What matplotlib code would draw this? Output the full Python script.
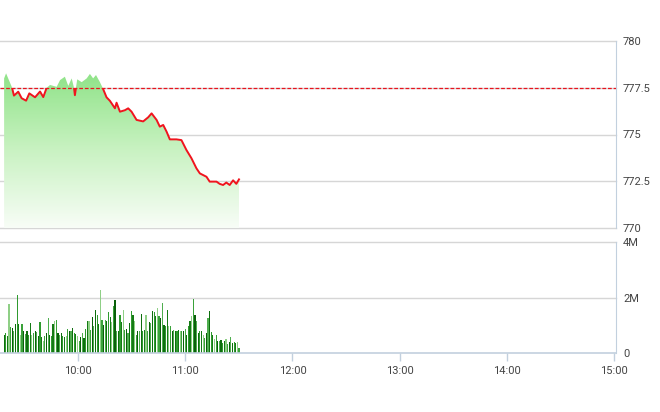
import numpy as np
import matplotlib
matplotlib.use('Agg')
import matplotlib.pyplot as plt
from matplotlib.colors import LinearSegmentedColormap
from matplotlib.patches import Rectangle

plt.rcParams['font.family'] = ['Roboto', 'DejaVu Sans']

# price line, time in minutes since midnight
price_t = [558.7, 559.8, 563.1, 564.2, 566.6, 568.5, 571.0, 572.8, 576.0, 578.8,
           580.6, 582.5, 584.4, 588.1, 590.0, 592.7, 594.6, 596.5, 597.8, 598.3,
           598.9, 599.6, 602.1, 604.9, 606.7, 608.5, 610.1, 612.3, 613.8, 616.0,
           617.9, 620.7, 621.6, 623.5, 626.3, 628.1, 630.0, 632.8, 636.5, 639.3,
           641.2, 644.0, 645.8, 647.7, 649.6, 651.4, 655.1, 657.9, 660.7, 663.5,
           666.3, 668.2, 671.9, 673.7, 677.5, 679.3, 681.2, 683.0, 684.9, 686.8,
           688.6, 690.1]
price_v = [778.00, 778.27, 777.52, 777.08, 777.29, 776.94, 776.81, 777.20, 776.99, 777.30,
           777.00, 777.50, 777.65, 777.55, 777.91, 778.09, 777.60, 778.00, 777.50, 777.10,
           777.50, 777.95, 777.80, 778.00, 778.24, 778.00, 778.18, 777.80, 777.50, 776.99,
           776.80, 776.40, 776.70, 776.22, 776.30, 776.40, 776.22, 775.78, 775.70, 775.92,
           776.13, 775.78, 775.42, 775.51, 775.15, 774.74, 774.74, 774.70, 774.17, 773.73,
           773.19, 772.92, 772.74, 772.48, 772.48, 772.36, 772.30, 772.43, 772.30, 772.55,
           772.36, 772.60]
ref_price = 777.5

# volume per bar, millions
volume = [0.64, 0.72, 0.60, 1.78, 0.94, 0.90, 0.80, 1.04, 2.10, 1.04,
          0.66, 1.04, 0.78, 0.68, 0.78, 0.66, 1.08, 0.66, 0.71, 0.80,
          0.76, 0.60, 1.12, 0.56, 0.44, 0.62, 0.72, 1.26, 0.66, 0.60,
          1.04, 1.16, 1.20, 0.72, 0.66, 0.72, 0.60, 0.56, 0.60, 0.86,
          0.80, 0.80, 0.90, 0.72, 0.68, 0.60, 0.42, 0.56, 0.72, 0.54,
          0.86, 1.16, 1.14, 0.84, 1.28, 0.96, 1.56, 1.38, 1.04, 2.26,
          1.20, 1.00, 1.20, 1.14, 1.48, 1.28, 1.12, 1.68, 1.92, 0.78,
          0.80, 1.38, 1.12, 1.56, 0.84, 0.88, 0.72, 1.08, 1.50, 1.38,
          1.14, 0.66, 0.78, 0.78, 1.40, 0.78, 0.84, 1.38, 0.78, 1.12,
          1.08, 1.52, 1.48, 1.32, 1.62, 1.32, 1.26, 1.80, 1.02, 0.96,
          1.56, 0.96, 0.96, 0.80, 0.84, 0.80, 0.78, 0.84, 0.78, 0.80,
          0.80, 0.88, 0.66, 0.96, 1.14, 1.32, 1.96, 1.38, 1.16, 0.72,
          0.78, 0.80, 0.66, 0.54, 0.72, 1.26, 1.52, 0.76, 0.66, 0.52,
          0.66, 0.42, 0.44, 0.48, 0.36, 0.42, 0.52, 0.32, 0.40, 0.56,
          0.36, 0.40, 0.36, 0.40, 0.18]

tick_t = [600, 660, 720, 780, 840, 900]
tick_lab = ['10:00', '11:00', '12:00', '13:00', '14:00', '15:00']
price_ticks = [770, 772.5, 775, 777.5, 780]
price_lab = ['770', '772.5', '775', '777.5', '780']
vol_ticks = [0, 2, 4]
vol_lab = ['0', '2M', '4M']

x_left = 556.4
x_right = 901
grid_c = '#d6d6d6'
axis_c = '#c2d0de'
text_c = '#444444'

fig = plt.figure(figsize=(6.6, 4.12), dpi=100)
ax = fig.add_axes([0, 1 - 228 / 412, 616 / 660, (228 - 41) / 412])
axv = fig.add_axes([0, 1 - 353 / 412, 616 / 660, (353 - 242) / 412])

# price panel
ax.set_xlim(x_left, x_right)
ax.set_ylim(770, 780)
for p in price_ticks:
    ax.axhline(p, color=grid_c, lw=1, zorder=0, clip_on=False)

poly = ax.fill_between(price_t, price_v, 770, color='none', lw=0)
cmap = LinearSegmentedColormap.from_list('g', ['#f8fdf7', '#c9f2c2', '#8fe388'])
grad = np.linspace(0, 1, 256).reshape(-1, 1)
img = ax.imshow(grad, cmap=cmap, origin='lower', aspect='auto',
                extent=[price_t[0], price_t[-1], 770, 778.3], zorder=1)
path = poly.get_paths()[0]
img.set_clip_path(path, transform=ax.transData)

ax.axhline(ref_price, color='#e8141e', lw=0.9, ls=(0, (3, 1.5)), zorder=3)
line, = ax.plot(price_t, price_v, color='#f0141e', lw=1.4, zorder=4)
clip = Rectangle((x_left, 769), x_right - x_left, ref_price - 769,
                 transform=ax.transData, fill=False, lw=0)
ax.add_patch(clip)
line.set_clip_path(clip)

ax.set_xticks([])
ax.yaxis.tick_right()
ax.set_yticks(price_ticks)
ax.set_yticklabels(price_lab)
ax.tick_params(axis='y', length=0, pad=5, labelsize=8, labelcolor=text_c)
for s in ['left', 'top', 'bottom']:
    ax.spines[s].set_visible(False)
ax.spines['right'].set_color(axis_c)

# volume panel
axv.set_xlim(x_left, x_right)
axv.set_ylim(0, 4)
for v in [2, 4]:
    axv.axhline(v, color=grid_c, lw=1, zorder=0, clip_on=False)
bar_t = np.linspace(price_t[0], price_t[-1], len(volume))
shades = ['#0e6e0e', '#2f9a2f', '#157a15', '#8fcf86', '#3aa23a', '#0a5f0a', '#4fae4f']
bar_c = [shades[i % len(shades)] for i in range(len(volume))]
axv.bar(bar_t, volume, width=0.65, color=bar_c, zorder=2)
axv.yaxis.tick_right()
axv.set_yticks(vol_ticks)
axv.set_yticklabels(vol_lab)
axv.tick_params(axis='y', length=0, pad=5, labelsize=8, labelcolor=text_c)
axv.set_xticks(tick_t)
axv.set_xticklabels(tick_lab)
axv.tick_params(axis='x', length=6, width=1, color=axis_c, pad=3,
                labelsize=8, labelcolor=text_c)
for s in ['left', 'top']:
    axv.spines[s].set_visible(False)
axv.spines['right'].set_color(axis_c)
axv.spines['bottom'].set_color(axis_c)
axv.spines['bottom'].set_linewidth(1.2)

fig.savefig('out.png', dpi=100)
